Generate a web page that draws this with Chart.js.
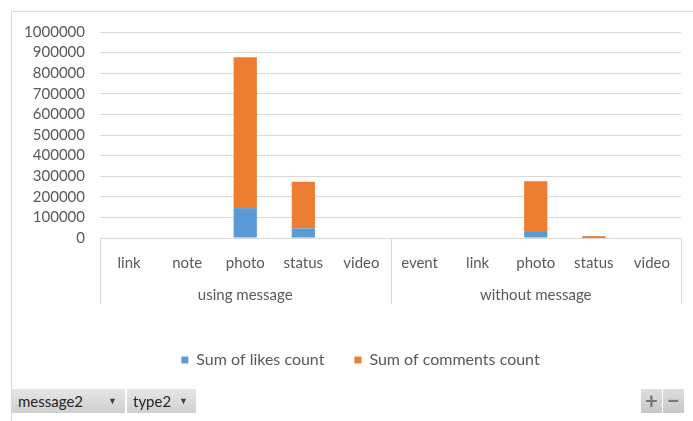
<!DOCTYPE html>
<html>
<head>
<meta charset="utf-8">
<script src="https://cdn.jsdelivr.net/npm/chart.js@4.4.1/dist/chart.umd.min.js"></script>
<style>
  body { margin: 0; background: #fff; font-family: Lato, sans-serif; }
  #wrap { position: relative; width: 693px; height: 421px; overflow: hidden; }
  #frame { position: absolute; left: 11px; top: 11px; width: 700px; height: 430px; border: 1px solid #d9d9d9; box-sizing: border-box; }
  canvas { position: absolute; left: 0; top: 0; }
  .btn { position: absolute; top: 389px; height: 24px; background: linear-gradient(#e6e6e6, #cfcfcf);
         color: #262626; font-size: 15px; line-height: 24px; box-sizing: border-box; padding-left: 6px; }
  .btn span { position: absolute; right: 8px; top: 0; font-size: 9px; color: #404040; }
  .pm { position: absolute; top: 389px; width: 21px; height: 24px; background: linear-gradient(#dedede, #c8c8c8);
        color: #777; font-size: 22px; font-weight: bold; line-height: 23px; text-align: center; }
</style>
</head>
<body>
<div id="wrap">
  <div id="frame"></div>
  <canvas id="chart" width="693" height="421"></canvas>
  <div class="btn" style="left:12px; width:113px;">message2<span>&#9660;</span></div>
  <div class="btn" style="left:127px; width:69px;">type2<span>&#9660;</span></div>
  <div class="pm" style="left:641px;">+</div>
  <div class="pm" style="left:663px;">&minus;</div>
</div>
<script>
// post types, grouped by whether the post has a message
const types = ['link', 'note', 'photo', 'status', 'video', 'event', 'link', 'photo', 'status', 'video'];
const groups = ['using message', 'without message'];
const groupSizes = [5, 5];

// too small to show at this scale where 0
const likes = [0, 0, 145000, 47000, 0, 0, 0, 29000, 500, 0];
const comments = [0, 0, 732000, 226000, 0, 0, 0, 247000, 8500, 0];

const yTicks = [0, 100000, 200000, 300000, 400000, 500000, 600000, 700000, 800000, 900000, 1000000];

const textColor = '#595959';
const lineColor = '#d9d9d9';

// draws the boxes and the outer group labels under the category axis
const groupAxis = {
    id: 'groupAxis',
    afterLayout(chart) {
        // excel centres the legend a bit to the right
        chart.legend.left += 20;
        chart.legend.right += 20;
    },
    afterDraw(chart) {
        const ctx = chart.ctx;
        const x = chart.scales.x;
        const top = chart.chartArea.bottom;
        const bottom = top + 66;
        const half = (x.getPixelForValue(1) - x.getPixelForValue(0)) / 2;
        ctx.save();
        ctx.strokeStyle = lineColor;
        ctx.lineWidth = 1;
        let start = 0;
        const edges = [x.left];
        groupSizes.forEach(n => {
            start += n;
            edges.push(x.getPixelForValue(start - 1) + half);
        });
        edges.forEach(px => {
            ctx.beginPath();
            ctx.moveTo(Math.round(px) + 0.5, top);
            ctx.lineTo(Math.round(px) + 0.5, bottom);
            ctx.stroke();
        });
        ctx.beginPath();
        ctx.moveTo(x.left, Math.round(top) + 0.5);
        ctx.lineTo(x.right, Math.round(top) + 0.5);
        ctx.stroke();
        ctx.fillStyle = textColor;
        ctx.font = '15px Lato';
        ctx.textAlign = 'center';
        ctx.textBaseline = 'middle';
        groups.forEach((g, i) => {
            ctx.fillText(g, (edges[i] + edges[i + 1]) / 2, top + 57);
        });
        ctx.restore();
    }
};

new Chart(document.getElementById('chart').getContext('2d'), {
    type: 'bar',
    data: {
        labels: types,
        datasets: [
            { label: 'Sum of likes count', data: likes, backgroundColor: '#5b9bd5' },
            { label: 'Sum of comments count', data: comments, backgroundColor: '#ed7d31' }
        ]
    },
    options: {
        responsive: false,
        animation: false,
        layout: { padding: { left: 0, right: 12, top: 32, bottom: 43 } },
        datasets: { bar: { barPercentage: 0.4, categoryPercentage: 1 } },
        scales: {
            x: {
                stacked: true,
                grid: { display: false },
                border: { display: false },
                ticks: { color: textColor, font: { family: 'Lato', size: 15 }, padding: 8, maxRotation: 0, autoSkip: false },
                afterFit(scale) { scale.height = 84; }
            },
            y: {
                stacked: true,
                min: 0,
                max: 1000000,
                afterBuildTicks(scale) { scale.ticks = yTicks.map(v => ({ value: v })); },
                grid: { color: lineColor, drawTicks: false },
                border: { display: false },
                ticks: {
                    color: textColor, font: { family: 'Lato', size: 15 }, padding: 15, autoSkip: false,
                    callback: v => String(v)
                },
                afterFit(scale) { scale.width = 100; }
            }
        },
        plugins: {
            legend: {
                position: 'bottom',
                labels: { color: textColor, font: { family: 'Lato', size: 16 }, boxWidth: 7, boxHeight: 7, padding: 30 }
            },
            tooltip: { enabled: false }
        }
    },
    plugins: [groupAxis]
});
</script>
</body>
</html>
